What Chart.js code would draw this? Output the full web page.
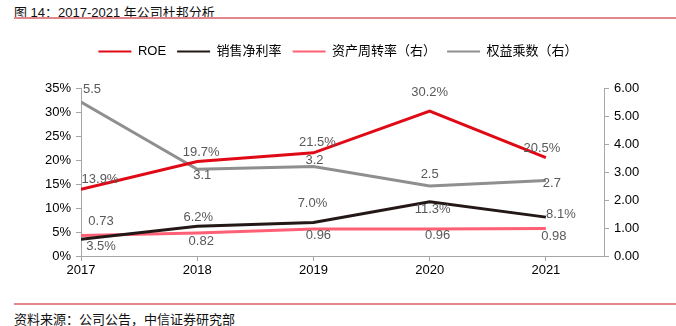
<!DOCTYPE html>
<html>
<head>
<meta charset="utf-8">
<script src="https://cdn.jsdelivr.net/npm/chart.js@4"></script>
<style>
  body { margin: 0; width: 676px; height: 326px; background: #fff; position: relative; overflow: hidden; font-family: "Liberation Sans", "Noto Sans CJK SC", sans-serif; }
  .title { position: absolute; left: 14px; top: 2px; font-size: 13px; color: #111; }
  .rule { position: absolute; left: 14px; right: 0; height: 2px; background: #e3868b; }
  .source { position: absolute; left: 14px; top: 309px; font-size: 13px; color: #111; }
  #wrap { position: absolute; left: 0; top: 24px; width: 676px; height: 272px; }
</style>
</head>
<body>
<div class="title">图 14：2017-2021 年公司杜邦分析</div>
<div class="rule" style="top:17px"></div>
<div id="wrap"><canvas id="dupont"></canvas></div>
<div class="rule" style="top:303px"></div>
<div class="source">资料来源：公司公告，中信证券研究部</div>
<script>
// 数据
const years = [2017, 2018, 2019, 2020, 2021];
const roe = [13.9, 19.7, 21.5, 30.2, 20.5];
const netMargin = [3.5, 6.2, 7.0, 11.3, 8.1];
const assetTurnover = [0.73, 0.82, 0.96, 0.96, 0.98];
const equityMultiplier = [5.5, 3.1, 3.2, 2.5, 2.7];
const leftTicks = [0, 5, 10, 15, 20, 25, 30, 35];
const rightTicks = [0, 1, 2, 3, 4, 5, 6];

// 数据标签偏移 (像素)
const labelOffsets = {
  roe: [[19, -10], [4, -9], [4, -10], [0, -19], [-4, -9]],
  netMargin: [[20, 7], [1, -9], [-1, -19], [3, 8], [15, -3]],
  assetTurnover: [[20, -14], [4, 8], [5, 6], [8, 6], [8, 8]],
  equityMultiplier: [[11, -13], [5, 6], [1, -6], [0, -12], [6, 3]],
};

const fmtPct = (v) => v.toFixed(1) + "%";
const fmt2 = (v) => v.toFixed(2);
const fmt1 = (v) => v.toFixed(1);

const toPoints = (arr) => arr.map((v, i) => ({ x: years[i], y: v }));

// label data di atas garis
const labelPlugin = {
  id: "pointLabels",
  afterDatasetsDraw(chart) {
    const ctx = chart.ctx;
    ctx.save();
    ctx.font = "13px 'Liberation Sans', sans-serif";
    ctx.fillStyle = "#595959";
    ctx.textAlign = "center";
    ctx.textBaseline = "middle";
    chart.data.datasets.forEach((ds, di) => {
      const meta = chart.getDatasetMeta(di);
      meta.data.forEach((pt, i) => {
        const off = labelOffsets[ds.key][i];
        ctx.fillText(ds.fmt(ds.data[i].y), pt.x + off[0], pt.y + off[1]);
      });
    });
    ctx.restore();
  },
};

// jarak tambahan di bawah legend
const legendMargin = {
  id: "legendMargin",
  beforeInit(chart) {
    const fit = chart.legend.fit;
    chart.legend.fit = function () {
      fit.bind(chart.legend)();
      this.height += 20;
    };
  },
};

const ctx = document.getElementById("dupont").getContext("2d");
new Chart(ctx, {
  type: "line",
  data: {
    datasets: [
      { key: "roe", label: "ROE", data: toPoints(roe), yAxisID: "y", borderColor: "#e00a16", backgroundColor: "#e00a16", borderWidth: 3, fmt: fmtPct },
      { key: "netMargin", label: "销售净利率", data: toPoints(netMargin), yAxisID: "y", borderColor: "#231816", backgroundColor: "#231816", borderWidth: 3, fmt: fmtPct },
      { key: "assetTurnover", label: "资产周转率（右）", data: toPoints(assetTurnover), yAxisID: "y1", borderColor: "#ff6075", backgroundColor: "#ff6075", borderWidth: 3, fmt: fmt2 },
      { key: "equityMultiplier", label: "权益乘数（右）", data: toPoints(equityMultiplier), yAxisID: "y1", borderColor: "#8f8f8f", backgroundColor: "#8f8f8f", borderWidth: 3, fmt: fmt1 },
    ],
  },
  options: {
    responsive: true,
    maintainAspectRatio: false,
    animation: false,
    elements: { point: { radius: 0 }, line: { tension: 0 } },
    layout: { padding: { top: 10, bottom: 16, left: 0, right: 0 } },
    scales: {
      x: {
        type: "linear",
        min: 2017,
        max: 2021.5,
        afterBuildTicks: (scale) => { scale.ticks = years.map((v) => ({ value: v })); },
        afterFit: (scale) => { scale.height = 24; },
        grid: { drawOnChartArea: false, color: "#a6a6a6", tickLength: 5 },
        border: { color: "#a6a6a6" },
        ticks: { color: "#000", font: { size: 13, family: "'Liberation Sans'" }, padding: 2, maxRotation: 0, callback: (v) => String(v) },
      },
      y: {
        position: "left",
        min: 0,
        max: 35,
        afterBuildTicks: (scale) => { scale.ticks = leftTicks.map((v) => ({ value: v })); },
        afterFit: (scale) => { scale.width = 81; },
        grid: { drawOnChartArea: false, color: "#a6a6a6", tickLength: 5 },
        border: { color: "#a6a6a6" },
        ticks: { color: "#000", font: { size: 13, family: "'Liberation Sans'" }, padding: 5, callback: (v) => v + "%" },
      },
      y1: {
        position: "right",
        min: 0,
        max: 6,
        afterBuildTicks: (scale) => { scale.ticks = rightTicks.map((v) => ({ value: v })); },
        afterFit: (scale) => { scale.width = 72; },
        grid: { drawOnChartArea: false, color: "#a6a6a6", tickLength: 5 },
        border: { color: "#a6a6a6" },
        ticks: { color: "#000", font: { size: 13, family: "'Liberation Sans'" }, padding: 5, callback: (v) => v.toFixed(2) },
      },
    },
    plugins: {
      legend: {
        display: true,
        position: "top",
        labels: {
          boxWidth: 33,
          boxHeight: 2,
          padding: 11,
          color: "#000",
          font: { size: 13, family: "'Liberation Sans', 'Noto Sans CJK SC'" },
          generateLabels: (chart) =>
            Chart.defaults.plugins.legend.labels.generateLabels(chart).map((l) => ({ ...l, lineWidth: 0 })),
        },
      },
      tooltip: { enabled: false },
    },
  },
  plugins: [labelPlugin, legendMargin],
});
</script>
</body>
</html>
